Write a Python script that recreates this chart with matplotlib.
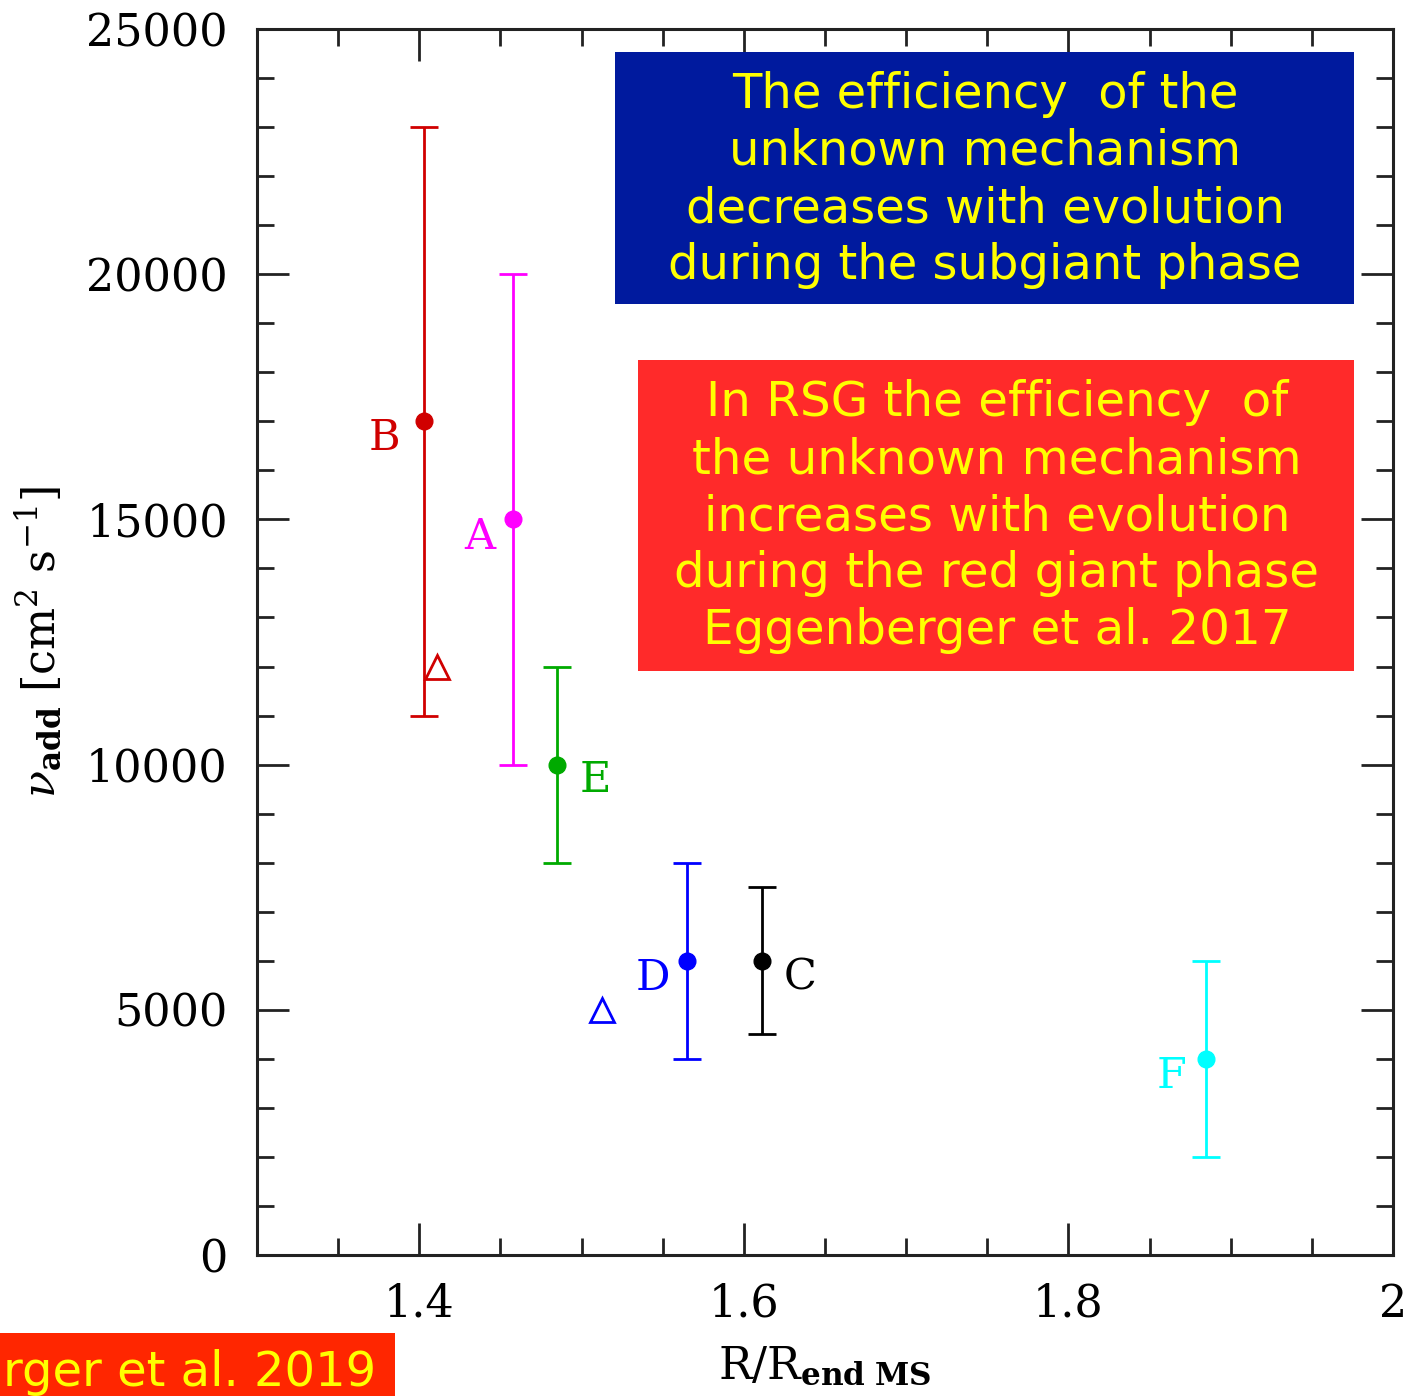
import matplotlib
matplotlib.use("Agg")
import matplotlib.pyplot as plt
from matplotlib.patches import Rectangle
from matplotlib.ticker import MultipleLocator

# ---- data ----
labels = ["B", "A", "E", "D", "C", "F"]
r_ratio = [1.403, 1.458, 1.485, 1.565, 1.611, 1.885]
nu_add = [17000, 15000, 10000, 6000, 6000, 4000]
nu_low = [11000, 10000, 8000, 4000, 4500, 2000]
nu_high = [23000, 20000, 12000, 8000, 7500, 6000]
colors = ["#d00000", "#ff00ff", "#00aa00", "#0000ff", "#000000", "#00ffff"]
label_offsets = [(-40, -17), (-34, -18), (38, -15), (-34, -17), (38, -17), (-35, -17)]  # pixels

tri_x = [1.411, 1.5125]
tri_y = [12000, 5000]
tri_colors = ["#d00000", "#0000ff"]

W, H = 1413, 1396
DPI = 100
plt.rcParams["mathtext.fontset"] = "dejavuserif"
fig = plt.figure(figsize=(W / DPI, H / DPI), dpi=DPI)
ax = fig.add_axes([257 / W, 1 - 1255 / H, (1393 - 257) / W, (1255 - 29) / H])

px = 72 / DPI
for x, y, lo, hi, c in zip(r_ratio, nu_add, nu_low, nu_high, colors):
    ax.errorbar([x], [y], yerr=[[y - lo], [hi - y]], fmt="o", color=c,
                ms=12, capsize=10, elinewidth=2, capthick=2, zorder=3)
for lab, x, y, c, (dx, dy) in zip(labels, r_ratio, nu_add, colors, label_offsets):
    ax.annotate(lab, (x, y), xytext=(dx * px, dy * px), textcoords="offset points",
                ha="center", va="center", color=c, fontsize=31, family="DejaVu Serif")
for x, y, c in zip(tri_x, tri_y, tri_colors):
    ax.plot([x], [y], marker="^", ms=17, mfc="none", mec=c, mew=2, ls="none", zorder=3)

ax.set_xlim(1.3, 2.0)
ax.set_ylim(0, 25000)
ax.xaxis.set_major_locator(MultipleLocator(0.2))
ax.xaxis.set_minor_locator(MultipleLocator(0.05))
ax.yaxis.set_major_locator(MultipleLocator(5000))
ax.yaxis.set_minor_locator(MultipleLocator(1000))
ax.set_xticks([1.4, 1.6, 1.8, 2.0])
ax.set_xticklabels(["1.4", "1.6", "1.8", "2"])
ax.tick_params(which="both", direction="in", top=True, right=True, width=2, color="#222222")
ax.tick_params(which="major", length=23)
ax.tick_params(which="minor", length=12)
ax.tick_params(axis="y", which="major", pad=21, labelsize=32)
ax.tick_params(axis="x", which="major", pad=20, labelsize=32)
for lab in ax.get_xticklabels() + ax.get_yticklabels():
    lab.set_family("DejaVu Serif")
for s in ax.spines.values():
    s.set_linewidth(2.2)
    s.set_color("#222222")

ax.set_xlabel(r"$\mathrm{R/R}_{\mathbf{end\ MS}}$", fontsize=32, labelpad=14)
ax.set_ylabel(r"$\nu_{\mathbf{add}}\ [\mathrm{cm}^2\ \mathrm{s}^{-1}]$", fontsize=32, labelpad=16)


def fig_box(x0, y0, x1, y1, color):
    fig.patches.append(Rectangle((x0 / W, 1 - y1 / H), (x1 - x0) / W, (y1 - y0) / H,
                                 transform=fig.transFigure, facecolor=color,
                                 edgecolor="none", zorder=5))


fig_box(615, 52, 1354, 304, "#001a9e")
blue_lines = ["The efficiency  of the", "unknown mechanism",
              "decreases with evolution", "during the subgiant phase"]
for i, t in enumerate(blue_lines):
    fig.text(985 / W, 1 - (94 + 57.3 * i) / H, t, ha="center", va="center",
             color="#ffff00", fontsize=34.6, family="DejaVu Sans", zorder=6)

fig_box(638, 360, 1354, 671, "#ff2a2a")
red_lines = ["In RSG the efficiency  of", "the unknown mechanism",
             "increases with evolution", "during the red giant phase",
             "Eggenberger et al. 2017"]
for i, t in enumerate(red_lines):
    fig.text(997 / W, 1 - (403 + 57 * i) / H, t, ha="center", va="center",
             color="#ffff00", fontsize=34.8, family="DejaVu Sans", zorder=6)

fig_box(0, 1333, 395, 1396, "#ff2600")
fig.text(3 / W, 1 - 1372 / H, "rger et al. 2019", ha="left", va="center",
         color="#ffff00", fontsize=34.6, family="DejaVu Sans", zorder=6)

fig.savefig("out.png", dpi=DPI)
